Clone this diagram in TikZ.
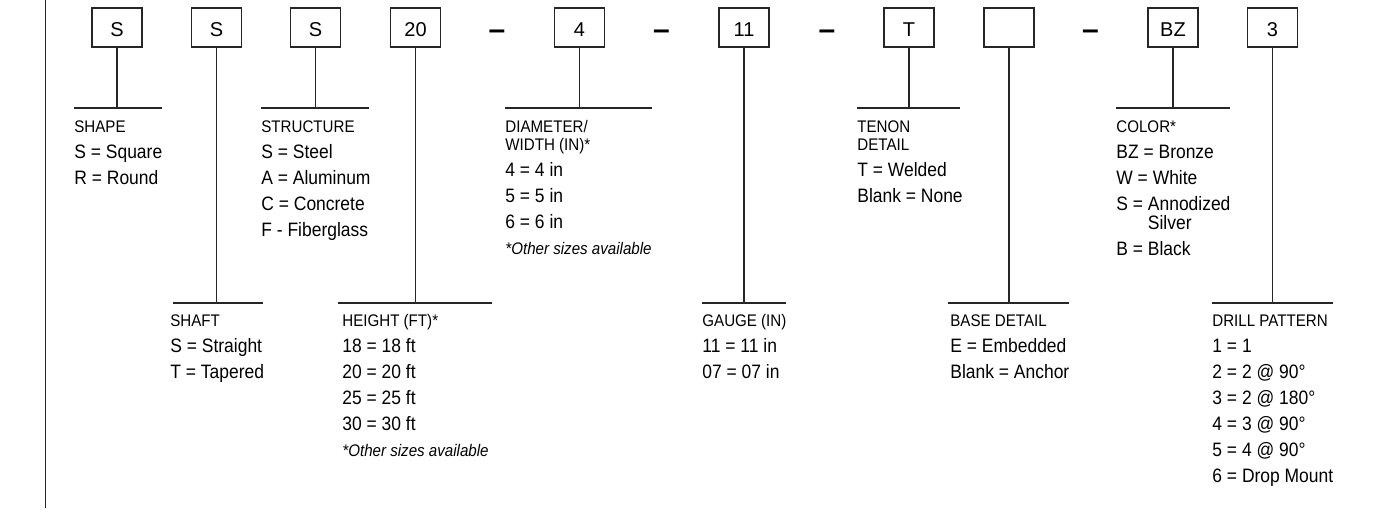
\documentclass[tikz,border=0pt]{standalone}
\usepackage{fontspec}
\setmainfont{Liberation Sans}[FakeStretch=0.9]
\newfontfamily\codefont{Liberation Sans}
\usetikzlibrary{positioning}
\newcommand{\ttl}{\fontsize{8.4}{10}\selectfont}
\newcommand{\othersizes}{{\ttl\itshape *Other sizes available}}

\begin{document}
\begin{tikzpicture}[x=0.5pt,y=-0.5pt,
  codebox/.style={draw=black!85, line width=0.6pt, minimum width=25pt, minimum height=19.5pt, inner sep=0pt, text height=9pt, text depth=0pt, font=\codefont\fontsize{10}{12}\selectfont},
  sepdash/.style={inner sep=0pt, anchor=base, font=\codefont\bfseries\fontsize{15}{18}\selectfont},
  rule/.style={draw=black!85, line width=0.6pt},
  legend/.style={align=left, inner sep=0pt, anchor=north west, font=\fontsize{9.7}{13}\selectfont}]
\useasboundingbox (0,0) rectangle (1382,531);
% left margin line
\coordinate (mtop) at (45.5,0);
\coordinate (mbot) at (45.5,508);
\draw[rule] (mtop) -- (mbot);
% code boxes
\node[codebox] (bshape) at (117,27.5) {S};
\node[codebox] (bshaft) at (216.5,27.5) {S};
\node[codebox] (bstruct) at (315.5,27.5) {S};
\node[codebox] (bheight) at (415.5,27.5) {20};
\node[sepdash] (dash1) at (497,39) {–};
\node[codebox] (bdiam) at (579.5,27.5) {4};
\node[sepdash] (dash2) at (661.5,39) {–};
\node[codebox] (bgauge) at (744,27.5) {11};
\node[sepdash] (dash3) at (827,39) {–};
\node[codebox] (btenon) at (909,27.5) {T};
\node[codebox] (bbase) at (1009,27.5) {};
\node[sepdash] (dash4) at (1090.5,39) {–};
\node[codebox] (bcolor) at (1173,27.5) {BZ};
\node[codebox] (bdrill) at (1272.5,27.5) {3};
% upper bars
\coordinate (shapeL) at (74,108);
\coordinate (shapeR) at (162,108);
\coordinate (structL) at (261,108);
\coordinate (structR) at (369,108);
\coordinate (diamL) at (505,108);
\coordinate (diamR) at (652,108);
\coordinate (tenonL) at (857,108);
\coordinate (tenonR) at (960,108);
\coordinate (colorL) at (1116,108);
\coordinate (colorR) at (1230,108);
% lower bars
\coordinate (shaftL) at (173,303);
\coordinate (shaftR) at (263,303);
\coordinate (heightL) at (338,303);
\coordinate (heightR) at (492,303);
\coordinate (gaugeL) at (702,303);
\coordinate (gaugeR) at (786,303);
\coordinate (baseL) at (948,303);
\coordinate (baseR) at (1069,303);
\coordinate (drillL) at (1212,303);
\coordinate (drillR) at (1333,303);
\draw[rule] (shapeL) -- (shapeR);
\draw[rule] (structL) -- (structR);
\draw[rule] (diamL) -- (diamR);
\draw[rule] (tenonL) -- (tenonR);
\draw[rule] (colorL) -- (colorR);
\draw[rule] (shaftL) -- (shaftR);
\draw[rule] (heightL) -- (heightR);
\draw[rule] (gaugeL) -- (gaugeR);
\draw[rule] (baseL) -- (baseR);
\draw[rule] (drillL) -- (drillR);
% stems
\draw[rule] (bshape.south) -- (bshape.south |- shapeL);
\draw[rule] (bshaft.south) -- (bshaft.south |- shaftL);
\draw[rule] (bstruct.south) -- (bstruct.south |- structL);
\draw[rule] (bheight.south) -- (bheight.south |- heightL);
\draw[rule] (bdiam.south) -- (bdiam.south |- diamL);
\draw[rule] (bgauge.south) -- (bgauge.south |- gaugeL);
\draw[rule] (btenon.south) -- (btenon.south |- tenonL);
\draw[rule] (bbase.south) -- (bbase.south |- baseL);
\draw[rule] (bcolor.south) -- (bcolor.south |- colorL);
\draw[rule] (bdrill.south) -- (bdrill.south |- drillL);
% legends (top of first line strut)
\node[legend] (lshape) at (74,118) {{\ttl\strut SHAPE}\\ S = Square\\ R = Round};
\node[legend] (lstruct) at (261,118) {{\ttl\strut STRUCTURE}\\ S = Steel\\ A = Aluminum\\ C = Concrete\\ F - Fiberglass};
\node[legend] (ldiam) at (505,118) {{\ttl\strut DIAMETER/}\\[-4pt] {\ttl WIDTH (IN)*}\\ 4 = 4 in\\ 5 = 5 in\\ 6 = 6 in\\ \othersizes};
\node[legend] (ltenon) at (857,118) {{\ttl\strut TENON}\\[-4pt] {\ttl DETAIL}\\ T = Welded\\ Blank = None};
\node[legend] (lcolor) at (1116,118) {{\ttl\strut COLOR*}\\ BZ = Bronze\\ W = White\\ S = Annodized\\[-3.5pt] \phantom{S = }Silver\\ B = Black};
\node[legend] (lshaft) at (170,312) {{\ttl\strut SHAFT}\\ S = Straight\\ T = Tapered};
\node[legend] (lheight) at (342,312) {{\ttl\strut HEIGHT (FT)*}\\ 18 = 18 ft\\ 20 = 20 ft\\ 25 = 25 ft\\ 30 = 30 ft\\ \othersizes};
\node[legend] (lgauge) at (702,312) {{\ttl\strut GAUGE (IN)}\\ 11 = 11 in\\ 07 = 07 in};
\node[legend] (lbase) at (950,312) {{\ttl\strut BASE DETAIL}\\ E = Embedded\\ Blank = Anchor};
\node[legend] (ldrill) at (1212,312) {{\ttl\strut DRILL PATTERN}\\ 1 = 1\\ 2 = 2 @ 90°\\ 3 = 2 @ 180°\\ 4 = 3 @ 90°\\ 5 = 4 @ 90°\\ 6 = Drop Mount};
\end{tikzpicture}
\end{document}
